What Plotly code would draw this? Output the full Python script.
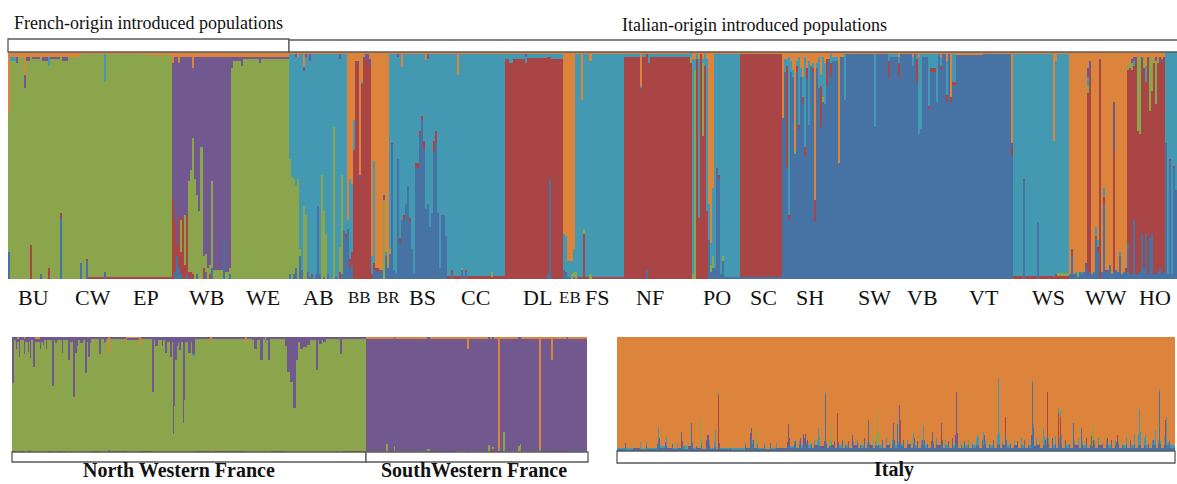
import plotly.graph_objects as go

W, H = 1177, 484

# Ancestry clusters, listed in stacking order (bottom -> top)
CLUSTER_ORDER = ["b", "r", "g", "t", "p", "o"]
CLUSTER_COLORS = {
    "b": "#4672a4",  # blue
    "r": "#a94645",  # red
    "g": "#8ba54d",  # green
    "t": "#4399b1",  # teal
    "p": "#71598f",  # purple
    "o": "#dc833c",  # orange
}

# Each entry: (number of individuals, main cluster, {minor cluster: proportion})
# ---- French-origin introduced populations ----
BU = [(1, "g", {"b": .12, "o": .27}), (3, "g", {"o": .02, "t": .02}), (1, "g", {"o": .02, "p": .03}),
      (3, "g", {"o": .02}), (1, "g", {"o": .10, "p": .06}), (2, "g", {"o": .02, "p": .02}),
      (1, "g", {"r": .15, "o": .02}), (4, "g", {"o": .02, "p": .01}), (1, "g", {"b": .02, "o": .02}),
      (3, "g", {"o": .02, "p": .02}), (1, "g", {"r": .05, "o": .02, "t": .04}),
      (5, "g", {"o": .02, "p": .01}), (1, "g", {"b": .27, "r": .02, "o": .02})]
CW = [(3, "g", {"o": .02, "p": .02}), (6, "g", {"o": .02}), (1, "g", {"b": .07, "o": .01}),
      (2, "g", {"o": .01}), (1, "g", {"b": .08, "r": .01, "o": .01}), (8, "g", {"o": .01, "r": .01}),
      (1, "g", {"b": .03, "t": .12, "o": .01}), (8, "g", {"o": .01, "r": .01})]
EP = [(12, "g", {"r": .01, "o": .01}), (13, "g", {"r": .01, "o": .015})]
WB = [(1, "p", {"o": .05, "r": .35}), (1, "p", {"o": .02, "r": .22, "b": .03}),
      (1, "p", {"o": .02, "r": .05, "b": .10}), (1, "p", {"o": .05, "r": .23, "b": .05}),
      (1, "p", {"o": .02, "g": .14, "r": .10, "b": .02}), (1, "p", {"o": .02, "r": .27}),
      (1, "p", {"o": .02, "g": .22, "r": .06}), (1, "p", {"o": .02, "r": .26, "b": .02}),
      (1, "p", {"o": .02, "g": .40, "r": .03}), (1, "p", {"o": .02, "g": .45, "r": .03}),
      (1, "p", {"o": .07, "g": .60, "r": .02}), (1, "p", {"o": .02, "g": .44}),
      (1, "p", {"o": .02, "g": .35, "b": .02}), (1, "p", {"o": .02, "g": .30}),
      (1, "p", {"o": .02, "g": .58}), (1, "p", {"o": .02, "g": .05, "r": .05}),
      (1, "p", {"o": .02, "g": .08, "b": .03}), (1, "p", {"o": .02, "g": .05}),
      (1, "p", {"o": .02, "g": .04, "r": .02}), (1, "p", {"o": .02, "g": .38, "b": .05}),
      (5, "p", {"o": .02, "g": .04}), (1, "p", {"o": .02, "b": .18}),
      (2, "p", {"o": .02, "g": .03}), (1, "p", {"o": .02, "g": .03, "b": .02})]
WE = [(1, "g", {"p": .05, "o": .02}), (4, "g", {"p": .02, "o": .02}), (1, "g", {"p": .04, "o": .02}),
      (8, "g", {"o": .02, "p": .01}), (1, "g", {"p": .03, "o": .02}), (14, "g", {"o": .02, "p": .01})]

# ---- Italian-origin introduced populations ----
AB = [(1, "t", {"g": .51, "b": .02, "o": .01}), (1, "t", {"g": .45, "o": .01}),
      (1, "t", {"g": .42, "b": .02, "o": .01}), (1, "t", {"g": .36, "b": .05, "p": .01, "o": .01}),
      (1, "t", {"g": .44, "o": .02}), (1, "t", {"b": .10, "g": .03, "o": .01}),
      (1, "t", {"b": .04, "o": .01}), (1, "t", {"g": .32, "p": .02, "o": .065}),
      (1, "t", {"g": .28, "p": .01, "o": .01}), (1, "t", {"b": .03, "o": .01}),
      (1, "t", {"p": .03, "b": .01, "o": .01}), (1, "t", {"r": .01, "b": .01, "o": .01}),
      (1, "t", {"o": .01}), (1, "t", {"b": .02, "o": .01}), (1, "t", {"b": .32, "o": .01}),
      (1, "t", {"b": .02, "o": .01}), (1, "t", {"g": .46, "o": .01}),
      (1, "t", {"g": .29, "b": .01, "o": .01}), (1, "t", {"g": .20, "o": .01}),
      (1, "t", {"b": .02, "o": .01}), (2, "t", {"o": .01}), (1, "t", {"g": .67, "o": .01}),
      (1, "t", {"b": .01, "o": .01}), (1, "t", {"o": .01}),
      (1, "t", {"g": .11, "r": .03, "p": .02, "o": .01}), (1, "t", {"g": .44, "b": .02, "o": .01}),
      (1, "t", {"b": .21, "o": .01}), (1, "t", {"b": .18, "r": .02, "o": .01})]
BB = [(1, "o", {"t": .04, "b": .22}), (1, "o", {"t": .35, "r": .04, "b": .05}),
      (1, "o", {"t": .30, "r": .06, "b": .06}), (1, "r", {"o": .30, "t": .13}),
      (1, "r", {"o": .04}), (1, "r", {"o": .04, "p": .02}), (1, "r", {"o": .54, "p": .02}),
      (1, "r", {"o": .13, "t": .01}), (1, "r", {"o": .02, "p": .02}), (1, "r", {"o": .01, "p": .02}),
      (1, "r", {"o": .01, "p": .02}), (1, "r", {"o": .03, "p": .03}),
      (1, "o", {"t": .08, "r": .02})]
BR = [(1, "o", {"t": .45, "b": .04, "r": .03}), (1, "o", {"p": .02, "b": .03}),
      (1, "o", {"b": .03, "r": .02}), (1, "o", {"b": .02, "p": .02}), (1, "o", {"b": .04}),
      (1, "o", {"g": .35, "p": .02}), (1, "o", {"b": .10, "t": .02}), (1, "o", {"b": .05, "g": .02})]
BS = [(1, "t", {"b": .11, "g": .02, "o": .01}), (1, "t", {"b": .59, "r": .01, "o": .01}),
      (1, "t", {"b": .04, "o": .01}), (1, "t", {"b": .02, "o": .01}),
      (1, "t", {"b": .53, "p": .01, "o": .01}), (1, "t", {"b": .16, "r": .02, "o": .01}),
      (1, "t", {"b": .26, "o": .065}), (1, "t", {"b": .26, "r": .02, "o": .01}),
      (1, "t", {"b": .33, "o": .01}), (1, "t", {"b": .41, "o": .01}),
      (1, "t", {"b": .25, "r": .02, "o": .01}), (1, "t", {"b": .13, "o": .01}),
      (1, "t", {"b": .02, "o": .01}), (1, "t", {"b": .49, "r": .02, "o": .01}),
      (1, "t", {"b": .49, "r": .02, "o": .01}), (1, "t", {"b": .63, "r": .02, "o": .01}),
      (1, "t", {"b": .70, "r": .02, "o": .01}), (1, "t", {"b": .57, "r": .04, "o": .01}),
      (1, "t", {"b": .31, "o": .035}), (1, "t", {"b": .33, "p": .02, "o": .01}),
      (1, "t", {"b": .23, "o": .01}), (1, "t", {"b": .29, "o": .01}),
      (1, "t", {"b": .56, "r": .05, "o": .01}), (1, "t", {"b": .60, "r": .05, "o": .01}),
      (1, "t", {"b": .29, "o": .01}), (1, "t", {"b": .05, "o": .01}),
      (1, "t", {"b": .28, "o": .01}), (1, "t", {"b": .28, "o": .01}), (1, "t", {"b": .19, "o": .01})]
CC = [(2, "t", {"r": .015, "o": .01}), (1, "t", {"r": .02, "b": .02, "o": .01}),
      (2, "t", {"r": .015, "o": .01}), (1, "t", {"r": .015, "o": .10}), (1, "t", {"r": .015, "o": .01}),
      (1, "t", {"b": .04, "g": .01, "o": .01}), (1, "t", {"r": .015, "o": .01}),
      (1, "t", {"b": .03, "r": .01, "o": .01}), (12, "t", {"r": .015, "o": .01}),
      (1, "t", {"g": .02, "r": .01, "o": .01}), (6, "t", {"r": .015, "o": .01})]
DL = [(2, "r", {"t": .02, "o": .01}), (2, "r", {"t": .04, "o": .01}), (6, "r", {"t": .02, "o": .01}),
      (1, "r", {"t": .03, "p": .01, "o": .01}), (10, "r", {"t": .015, "o": .01}),
      (1, "r", {"b": .02, "t": .01, "o": .01}), (1, "r", {"b": .44, "t": .01, "o": .01})]
EB = [(6, "r", {"t": .02, "o": .01}), (1, "o", {"t": .16, "b": .04}),
      (1, "o", {"t": .16, "b": .02, "r": .01}), (2, "o", {"t": .07, "b": .01}),
      (1, "o", {"t": .06, "g": .02}), (1, "o", {"t": .10, "g": .02, "b": .01})]
FS = [(1, "t", {"g": .03, "o": .01}), (2, "t", {"r": .01, "o": .01}), (1, "t", {"o": .21, "r": .01}),
      (1, "t", {"r": .20, "g": .02, "o": .01}), (2, "t", {"r": .01, "o": .01}),
      (1, "t", {"o": .04, "g": .02}), (16, "t", {"r": .01, "o": .01})]
NF = [(8, "r", {"o": .01, "t": .01}), (1, "r", {"o": .15, "t": .01}), (2, "r", {"o": .01, "t": .01}),
      (1, "r", {"b": .04, "o": .01}), (1, "r", {"t": .04, "o": .01}), (20, "r", {"o": .01, "t": .01})]
PO = [(1, "r", {"g": .03, "t": .02}), (1, "t", {"g": .02, "o": .03}), (1, "g", {"t": .05, "o": .03}),
      (1, "r", {"t": .02, "o": .01}), (1, "t", {"r": .27, "o": .03}), (1, "r", {"o": .01}),
      (1, "r", {"g": .32, "o": .03, "t": .02}), (1, "r", {"t": .05, "o": .01}),
      (1, "t", {"r": .30, "o": .03}), (1, "o", {"t": .16, "b": .17}),
      (1, "o", {"t": .10, "b": .03, "g": .03}), (1, "o", {"t": .30, "g": .05, "b": .05}),
      (1, "t", {"b": .05, "o": .01}), (1, "t", {"b": .48, "r": .01, "o": .01}),
      (1, "t", {"b": .44, "r": .02, "o": .01}), (1, "t", {"b": .02, "o": .01}),
      (1, "t", {"g": .02, "b": .08, "o": .01}), (8, "t", {"b": .01, "o": .01})]
SC = [(21, "r", {"o": .01, "b": .01})]
SH = [(1, "b", {"o": .29}), (1, "b", {"o": .03, "t": .06}), (1, "b", {"o": .03, "t": .03, "r": .45}),
      (1, "b", {"o": .02, "t": .70, "r": .02}), (1, "b", {"o": .04, "t": .05}),
      (1, "b", {"o": .08, "t": .03}), (1, "b", {"o": .43, "g": .02}),
      (1, "b", {"o": .04, "t": .02, "r": .03}), (1, "b", {"o": .02, "t": .30, "r": .02}),
      (1, "b", {"o": .07, "t": .04}), (1, "b", {"o": .11, "t": .09, "r": .02}),
      (1, "b", {"o": .02, "t": .40, "r": .04}), (1, "b", {"o": .07, "r": .05}),
      (1, "b", {"o": .04, "t": .28}), (1, "b", {"o": .06}), (1, "b", {"o": .05, "t": .02, "r": .02}),
      (1, "b", {"o": .65, "r": .10}), (1, "b", {"o": .05, "t": .02}), (1, "b", {"o": .02, "t": .14}),
      (1, "b", {"o": .10, "t": .05, "r": .18}), (1, "b", {"t": .18, "g": .02, "o": .02}),
      (1, "b", {"o": .05, "t": .18}), (1, "b", {"o": .03, "r": .12}), (1, "b", {"o": .03}),
      (1, "b", {"t": .04, "r": .06, "o": .01}), (3, "b", {"o": .02, "t": .02}),
      (1, "b", {"o": .49}), (2, "b", {"o": .02})]
SW = [(1, "b", {"t": .20, "o": .01}), (14, "b", {"o": .01}), (1, "b", {"t": .32, "o": .01}),
      (6, "b", {"o": .01}), (1, "b", {"t": .03, "r": .07, "o": .01}), (4, "b", {"o": .01, "t": .01}),
      (1, "b", {"o": .02, "t": .03, "r": .06})]
VB = [(6, "b", {"o": .01}), (1, "b", {"t": .04, "o": .02}), (1, "b", {"o": .01}),
      (1, "b", {"r": .10, "t": .02, "o": .01}), (1, "b", {"t": .34, "o": .02}),
      (1, "b", {"t": .33, "o": .01}), (3, "b", {"o": .01, "t": .01}),
      (1, "b", {"t": .23, "r": .01, "o": .01}), (3, "b", {"t": .06, "r": .02, "o": .01}),
      (1, "b", {"t": .21, "o": .01}), (1, "b", {"o": .01}), (1, "b", {"r": .02, "t": .04, "o": .02}),
      (2, "b", {"o": .01}), (1, "b", {"o": .04, "t": .15, "r": .03}), (1, "b", {"o": .01}),
      (1, "b", {"o": .20, "r": .02}), (2, "b", {"t": .12, "r": .015, "o": .01})]
VT = [(13, "b", {"o": .012}), (14, "b", {"o": .01}), (1, "b", {"o": .40, "p": .02, "r": .04})]
WS = [(5, "t", {"r": .015, "o": .01}), (1, "t", {"b": .43, "r": .01, "o": .01}),
      (6, "t", {"r": .015, "o": .01}), (1, "t", {"b": .25, "o": .01}), (7, "t", {"r": .015, "o": .01}),
      (1, "t", {"o": .39, "r": .01}), (1, "t", {"o": .04, "r": .02}),
      (6, "t", {"r": .015, "g": .01, "o": .01})]
WW = [(1, "o", {"b": .02}), (1, "o", {"b": .10, "r": .01, "p": .02}), (1, "o", {"b": .02}),
      (1, "o", {"b": .02, "t": .01}), (1, "o", {"g": .02, "b": .01}), (1, "o", {"b": .03}),
      (1, "o", {"b": .02, "t": .01}), (1, "o", {"b": .03}), (1, "o", {"b": .05, "p": .02}),
      (1, "o", {"b": .02, "r": .80, "t": .04, "g": .03, "p": .04}),
      (1, "o", {"b": .03, "r": .89, "p": .04}), (1, "o", {"b": .02}), (1, "o", {"b": .03}),
      (1, "o", {"b": .18, "t": .04, "r": .01}), (1, "o", {"b": .12, "t": .03, "r": .02}),
      (1, "o", {"r": .96, "p": .01}), (1, "o", {"b": .03}), (1, "o", {"b": .33, "r": .03, "t": .04}),
      (1, "o", {"b": .03, "r": .01}), (1, "o", {"b": .04}), (1, "o", {"b": .06}), (1, "o", {"b": .02}),
      (1, "o", {"b": .03, "r": .53, "p": .22}), (1, "o", {"b": .04}), (1, "o", {"b": .03}),
      (1, "o", {"b": .10, "t": .02}), (1, "o", {"b": .02}), (1, "o", {"b": .03}),
      (1, "o", {"b": .03, "r": .02})]
HO = [(1, "r", {"o": .06, "g": .02, "b": .16}), (1, "r", {"o": .05, "g": .02, "b": .02}),
      (1, "r", {"o": .03, "p": .02, "g": .03, "b": .02}), (1, "r", {"o": .02, "p": .02, "t": .02, "b": .26}),
      (1, "r", {"o": .02, "p": .02, "b": .02}), (1, "r", {"o": .03, "g": .32, "b": .02}),
      (1, "r", {"o": .02, "g": .34, "b": .03}), (1, "r", {"o": .02, "p": .02, "b": .20}),
      (1, "r", {"o": .02, "g": .05, "b": .05}), (1, "r", {"o": .06, "t": .07, "b": .20}),
      (1, "r", {"o": .02, "b": .02}), (1, "r", {"o": .02, "g": .24, "b": .18}),
      (1, "r", {"o": .02, "g": .15, "b": .20}), (1, "r", {"o": .05, "b": .02}),
      (1, "r", {"o": .02, "p": .02, "g": .19, "b": .02}), (1, "r", {"o": .03, "g": .02, "b": .03}),
      (1, "r", {"o": .02, "b": .05}), (1, "r", {"o": .03, "p": .02, "b": .02}),
      (1, "r", {"o": .02, "b": .03}), (1, "t", {"b": .60}), (1, "t", {"b": .02}),
      (1, "t", {"b": .52, "r": .01}), (1, "t", {"b": .02}), (1, "t", {"b": .49, "r": .01}),
      (1, "t", {"b": .39})]

TOP_POPS = [BU, CW, EP, WB, WE, AB, BB, BR, BS, CC, DL, EB, FS, NF, PO, SC, SH, SW, VB, VT, WS, WW, HO]
TOP_LABELS = ["BU", "CW", "EP", "WB", "WE", "AB", "BB", "BR", "BS", "CC", "DL", "EB", "FS",
              "NF", "PO", "SC", "SH", "SW", "VB", "VT", "WS", "WW", "HO"]

# ---- Native range: France ----
NW_FRANCE = [
    (2, "g", {"p": .40, "r": .01}), (2, "g", {"p": .03, "r": .01}), (1, "g", {"p": .10}),
    (2, "g", {"p": .03, "o": .01}), (1, "g", {"p": .17}), (4, "g", {"p": .03, "r": .01}),
    (1, "g", {"p": .14, "o": .01}), (3, "g", {"p": .04}), (1, "g", {"p": .13}),
    (1, "g", {"p": .04, "r": .02}), (1, "g", {"p": .18}), (2, "g", {"p": .03}), (2, "g", {"p": .26}),
    (5, "g", {"p": .03, "o": .01}), (1, "g", {"p": .10}), (2, "g", {"p": .04}), (1, "g", {"p": .07}),
    (2, "g", {"p": .03}), (1, "g", {"p": .10}), (5, "g", {"p": .03, "r": .01}), (2, "g", {"p": .43}),
    (1, "g", {"p": .03}), (2, "g", {"p": .05}), (5, "g", {"p": .03, "b": .01}), (1, "g", {"p": .14}),
    (5, "g", {"p": .03}), (2, "g", {"p": .20}), (3, "g", {"p": .04, "r": .01}), (2, "g", {"p": .52}),
    (2, "g", {"p": .14}), (1, "g", {"p": .08}), (2, "g", {"p": .03}), (3, "g", {"p": .05}),
    (2, "g", {"p": .03}), (2, "g", {"p": .31}), (1, "g", {"p": .04}), (2, "g", {"p": .17}),
    (1, "g", {"p": .05}), (8, "g", {"p": .02, "r": .01}), (2, "g", {"p": .15}), (3, "g", {"p": .02}),
    (2, "g", {"p": .04, "t": .01}), (2, "g", {"p": .02}), (2, "g", {"o": .14, "b": .02}),
    (16, "g", {"p": .015, "r": .01}), (1, "g", {"o": .05}), (12, "g", {"p": .015, "o": .005}),
    (2, "g", {"o": .08}), (11, "g", {"p": .02, "r": .01}), (2, "g", {"p": .48}), (1, "g", {"p": .03}),
    (3, "g", {"p": .08}), (4, "g", {"p": .03}), (1, "g", {"p": .08}), (2, "g", {"p": .03}),
    (2, "g", {"p": .14}), (3, "g", {"p": .04}), (2, "g", {"p": .17}), (1, "g", {"p": .04}),
    (1, "g", {"p": .84}), (1, "g", {"p": .60}), (2, "g", {"p": .20}), (1, "g", {"p": .08}),
    (1, "g", {"p": .05}), (2, "g", {"p": .11}), (2, "g", {"p": .04}), (1, "g", {"p": .75}),
    (1, "g", {"p": .55}), (3, "g", {"p": .04}), (3, "g", {"p": .14}), (1, "g", {"p": .04}),
    (3, "g", {"p": .15, "t": .01}), (15, "g", {"p": .015, "r": .01}), (2, "g", {"o": .04}),
    (33, "g", {"p": .015, "r": .01}), (2, "g", {"o": .05}), (5, "g", {"p": .02}), (2, "g", {"p": .03}),
    (3, "g", {"p": .10}), (3, "g", {"p": .03}), (3, "g", {"p": .20}), (2, "g", {"p": .02}),
    (1, "g", {"t": .03, "o": .02}), (2, "g", {"p": .03}), (2, "g", {"p": .20}),
    (15, "g", {"p": .02, "r": .01}), (2, "g", {"p": .08}), (3, "g", {"p": .30}), (3, "g", {"p": .39}),
    (3, "g", {"p": .62}), (2, "g", {"p": .20}), (2, "g", {"p": .04}), (3, "g", {"p": .10}),
    (4, "g", {"p": .09}), (3, "g", {"p": .07}), (6, "g", {"p": .03}), (2, "g", {"p": .29}),
    (1, "g", {"p": .03}), (3, "g", {"p": .06}), (1, "g", {"p": .03}), (3, "g", {"p": .04}),
    (14, "g", {"p": .02}), (2, "g", {"p": .15}), (24, "g", {"p": .015, "r": .01})]
SW_FRANCE = [
    (20, "p", {"o": .01, "g": .01}), (2, "p", {"g": .07, "o": .01}), (6, "p", {"o": .01, "r": .01}),
    (1, "p", {"g": .05}), (32, "p", {"o": .01, "g": .005}), (3, "p", {"g": .02, "r": .01}),
    (25, "p", {"o": .01}), (1, "p", {"r": .03, "o": .01}), (11, "p", {"o": .01, "g": .01}),
    (2, "p", {"o": .10}), (19, "p", {"o": .01, "g": .01}), (2, "p", {"g": .06}), (2, "p", {"o": .01}),
    (2, "p", {"r": .03, "g": .01}), (4, "p", {"o": .01}), (2, "o", {"g": .02, "r": .01}),
    (3, "p", {"o": .01}), (2, "p", {"g": .17, "o": .01}), (13, "p", {"o": .01, "g": .01}),
    (2, "p", {"g": .05}), (1, "p", {"g": .06, "r": .01}), (18, "p", {"o": .01, "g": .01}),
    (2, "o", {"g": .02, "b": .01}), (10, "p", {"o": .01}), (2, "p", {"o": .20}),
    (14, "p", {"o": .01, "r": .01}), (1, "p", {"r": .03}), (19, "p", {"o": .01, "t": .01})]

# ---- Native range: Italy ----
ITALY = [
    (8, "o", {"b": .02, "t": .01}), (1, "o", {"b": .05, "p": .02}), (6, "o", {"t": .02, "b": .01}),
    (1, "o", {"g": .04, "b": .02}), (7, "o", {"b": .02, "p": .01}), (1, "o", {"t": .06, "b": .02}),
    (5, "o", {"b": .02, "g": .01}), (1, "o", {"b": .04, "t": .04}), (10, "o", {"b": .02, "t": .01}),
    (1, "o", {"b": .06}), (1, "o", {"b": .10, "t": .11}), (1, "o", {"b": .08, "p": .03}),
    (5, "o", {"b": .03, "t": .01}), (1, "o", {"p": .05, "b": .03}), (1, "o", {"t": .08, "b": .04}),
    (5, "o", {"b": .02, "p": .01}), (1, "o", {"b": .06, "g": .02}), (4, "o", {"b": .02, "t": .01}),
    (1, "o", {"t": .05, "b": .02}), (3, "o", {"b": .03}), (1, "o", {"b": .03, "r": .06, "p": .08}),
    (1, "o", {"b": .05, "p": .04}), (4, "o", {"b": .02, "t": .02}), (1, "o", {"g": .06, "b": .02}),
    (3, "o", {"b": .02, "p": .02}), (1, "o", {"b": .25}), (1, "o", {"b": .06, "t": .03}),
    (3, "o", {"b": .02, "t": .01}), (1, "o", {"b": .04, "g": .03}), (3, "o", {"b": .02, "p": .01}),
    (1, "o", {"b": .03, "g": .26}), (1, "o", {"b": .05, "t": .03}), (4, "o", {"b": .02}),
    (1, "o", {"p": .07, "b": .03}), (1, "o", {"b": .04, "p": .10}),
    (1, "o", {"b": .03, "r": .03, "p": .08}), (1, "o", {"b": .05, "t": .05}),
    (4, "o", {"b": .02, "t": .01}), (1, "o", {"b": .03, "t": .05}), (1, "o", {"b": .04, "t": .14}),
    (2, "o", {"b": .02}), (1, "o", {"b": .02, "r": .47, "t": .03}), (1, "o", {"b": .04, "p": .03}),
    (10, "o", {"b": .02, "t": .01}), (1, "o", {"b": .03, "g": .03}), (14, "o", {"b": .015, "t": .01}),
    (1, "o", {"b": .05, "t": .02}), (4, "o", {"b": .02, "p": .01}), (1, "o", {"b": .10, "p": .06}),
    (1, "o", {"b": .12, "p": .08}), (1, "o", {"b": .06, "t": .04}), (1, "o", {"b": .08, "r": .02}),
    (2, "o", {"b": .03}), (1, "o", {"b": .03, "g": .17}), (1, "o", {"b": .05, "t": .02}),
    (6, "o", {"b": .02, "t": .01}), (1, "o", {"b": .04, "t": .03}), (5, "o", {"b": .02}),
    (1, "o", {"b": .05, "p": .02}), (5, "o", {"b": .02, "t": .01}), (1, "o", {"b": .03, "t": .04}),
    (10, "o", {"b": .02, "p": .01}), (1, "o", {"b": .05, "r": .03}),
    (1, "o", {"b": .04, "r": .04, "p": .16}), (1, "o", {"b": .05, "p": .06}),
    (4, "o", {"b": .03, "t": .01}), (1, "o", {"b": .06, "t": .03}), (1, "o", {"b": .04, "p": .05}),
    (3, "o", {"b": .03}), (1, "o", {"b": .05, "t": .04}), (1, "o", {"b": .04, "p": .07}),
    (2, "o", {"b": .03, "t": .02}), (1, "o", {"b": .04, "p": .11}), (1, "o", {"b": .06, "p": .05}),
    (1, "o", {"b": .04, "r": .03, "p": .08}), (1, "o", {"b": .05, "t": .03}),
    (1, "o", {"b": .04, "p": .06}), (3, "o", {"b": .03, "t": .02}), (1, "o", {"b": .06, "g": .03}),
    (2, "o", {"b": .03}), (1, "o", {"b": .05, "t": .05}), (2, "o", {"b": .03, "p": .02}),
    (1, "o", {"b": .04, "t": .06}), (1, "o", {"b": .05, "t": .15}), (1, "o", {"b": .04, "t": .08}),
    (4, "o", {"b": .03, "p": .01}), (1, "o", {"b": .06, "p": .03}), (1, "o", {"b": .49, "t": .03}),
    (1, "o", {"b": .06, "t": .02}), (2, "o", {"b": .03}), (1, "o", {"b": .04, "g": .04}),
    (1, "o", {"b": .04, "g": .20}), (1, "o", {"b": .05, "t": .04}), (2, "o", {"b": .03, "p": .02}),
    (1, "o", {"b": .05, "p": .04}), (2, "o", {"b": .03}), (1, "o", {"b": .04, "r": .29}),
    (1, "o", {"b": .05, "p": .03}), (3, "o", {"b": .03, "t": .02}), (1, "o", {"b": .06, "p": .04}),
    (2, "o", {"b": .03}), (1, "o", {"b": .05, "g": .04}), (2, "o", {"b": .03, "t": .02}),
    (1, "o", {"b": .06, "r": .03}), (3, "o", {"b": .03}), (1, "o", {"b": .04, "p": .10}),
    (1, "o", {"b": .05, "t": .04}), (3, "o", {"b": .03, "p": .02}), (1, "o", {"b": .07, "t": .03}),
    (2, "o", {"b": .03}), (1, "o", {"b": .05, "g": .04}), (3, "o", {"b": .03, "t": .02}),
    (1, "o", {"b": .06, "p": .05}), (2, "o", {"b": .03}), (1, "o", {"b": .05, "t": .03}),
    (1, "o", {"b": .27}), (1, "o", {"b": .06, "t": .02}), (2, "o", {"b": .03, "p": .02}),
    (1, "o", {"b": .05, "g": .06}), (2, "o", {"b": .03}), (1, "o", {"b": .04, "t": .05}),
    (1, "o", {"b": .05, "g": .10}), (1, "o", {"b": .04, "g": .32}), (1, "o", {"b": .05, "g": .12}),
    (3, "o", {"b": .03, "t": .02}), (1, "o", {"b": .06, "p": .04}), (3, "o", {"b": .03}),
    (1, "o", {"b": .05, "t": .06}), (2, "o", {"b": .03, "p": .02}), (1, "o", {"b": .06, "g": .03}),
    (2, "o", {"b": .03}), (1, "o", {"b": .06, "t": .04}), (1, "o", {"b": .18, "p": .07}),
    (1, "o", {"b": .06, "p": .04}), (2, "o", {"b": .03, "t": .02}), (1, "o", {"b": .24}),
    (1, "o", {"b": .05, "t": .03}), (1, "o", {"b": .30, "p": .10}), (1, "o", {"b": .06, "r": .21}),
    (2, "o", {"b": .04, "t": .02}), (1, "o", {"b": .06, "p": .04}), (3, "o", {"b": .03}),
    (1, "o", {"b": .05, "t": .05}), (2, "o", {"b": .03, "p": .03}), (1, "o", {"b": .06, "g": .04}),
    (2, "o", {"b": .03}), (1, "o", {"b": .06, "t": .10}), (1, "o", {"b": .05, "p": .06}),
    (2, "o", {"b": .03, "t": .02}), (1, "o", {"b": .06, "r": .03}), (3, "o", {"b": .03}),
    (1, "o", {"b": .05, "t": .05}), (1, "o", {"b": .04, "p": .06}), (1, "o", {"b": .05, "t": .18}),
    (1, "o", {"b": .06, "p": .04}), (2, "o", {"b": .03, "t": .02}), (1, "o", {"b": .06, "g": .03}),
    (3, "o", {"b": .03}), (1, "o", {"b": .05, "r": .04}), (1, "o", {"b": .05, "p": .12}),
    (1, "o", {"b": .06, "t": .03}), (2, "o", {"b": .03}), (1, "o", {"b": .06, "t": .05}),
    (3, "o", {"b": .03, "p": .02}), (1, "o", {"b": .05, "g": .04}),
    (1, "o", {"b": .05, "r": .12, "p": .08}), (1, "o", {"b": .06, "p": .04}), (2, "o", {"b": .03}),
    (1, "o", {"b": .05, "t": .05}), (2, "o", {"b": .03, "t": .02}), (1, "o", {"b": .06, "p": .03}),
    (3, "o", {"b": .03}), (1, "o", {"b": .05, "p": .06}), (2, "o", {"b": .03, "t": .02}),
    (1, "o", {"b": .06, "p": .08}), (1, "o", {"b": .07, "p": .45}), (1, "o", {"b": .06, "p": .10}),
    (3, "o", {"b": .03}), (1, "o", {"b": .05, "t": .04}), (2, "o", {"b": .03, "g": .02}),
    (1, "o", {"b": .06, "p": .03}), (3, "o", {"b": .03, "t": .02}), (1, "o", {"b": .05, "t": .05}),
    (3, "o", {"b": .03}), (1, "o", {"b": .06, "g": .04}), (3, "o", {"b": .03, "t": .02}),
    (1, "o", {"b": .05, "t": .06}), (1, "o", {"b": .04, "t": .10}), (1, "o", {"b": .05, "t": .07}),
    (3, "o", {"b": .03}), (1, "o", {"b": .05, "p": .05}), (1, "o", {"b": .05, "t": .12}),
    (1, "o", {"b": .04, "p": .10}), (1, "o", {"b": .06, "t": .04}), (3, "o", {"b": .03}),
    (1, "o", {"b": .06, "g": .04}), (3, "o", {"b": .03, "t": .02}), (1, "o", {"b": .05, "p": .05}),
    (3, "o", {"b": .03}), (1, "o", {"b": .06, "t": .08}), (1, "o", {"b": .05, "t": .58}),
    (1, "o", {"b": .06, "t": .10}), (2, "o", {"b": .03}), (1, "o", {"b": .05, "t": .04}),
    (2, "o", {"b": .03, "p": .02}), (1, "o", {"b": .15, "r": .15}), (1, "o", {"b": .06, "p": .04}),
    (3, "o", {"b": .03, "t": .02}), (1, "o", {"b": .06, "g": .03}), (3, "o", {"b": .03}),
    (1, "o", {"b": .05, "t": .05}), (2, "o", {"b": .03, "p": .02}), (1, "o", {"b": .06, "r": .03}),
    (3, "o", {"b": .03}), (1, "o", {"b": .05, "t": .06}), (2, "o", {"b": .03, "t": .02}),
    (1, "o", {"b": .06, "p": .04}), (3, "o", {"b": .03}), (1, "o", {"b": .05, "g": .05}),
    (2, "o", {"b": .03, "t": .02}), (1, "o", {"b": .10, "p": .04}), (1, "o", {"b": .60, "t": .02}),
    (1, "o", {"b": .20, "t": .04}), (2, "o", {"b": .04}), (1, "o", {"b": .06, "t": .05}),
    (2, "o", {"b": .03, "p": .02}), (1, "o", {"b": .06, "g": .04}), (3, "o", {"b": .03}),
    (1, "o", {"b": .05, "t": .15}), (1, "o", {"b": .05, "t": .08}), (1, "o", {"b": .06, "p": .04}),
    (1, "o", {"b": .05, "t": .06}), (1, "o", {"b": .04, "r": .48}), (1, "o", {"b": .06, "t": .05}),
    (3, "o", {"b": .03}), (1, "o", {"b": .06, "p": .05}), (2, "o", {"b": .03, "t": .02}),
    (1, "o", {"b": .06, "t": .07}), (2, "o", {"b": .03}), (1, "o", {"b": .05, "r": .28, "t": .05}),
    (1, "o", {"b": .05, "t": .06}), (1, "o", {"b": .04, "r": .26, "t": .05}),
    (1, "o", {"b": .06, "t": .08}), (3, "o", {"b": .03}), (1, "o", {"b": .05, "p": .05}),
    (3, "o", {"b": .03, "t": .02}), (1, "o", {"b": .06, "g": .03}), (3, "o", {"b": .03}),
    (1, "o", {"b": .25}), (1, "o", {"b": .06, "t": .03}), (3, "o", {"b": .03, "p": .02}),
    (1, "o", {"b": .05, "t": .06}), (2, "o", {"b": .03}), (1, "o", {"b": .20}),
    (1, "o", {"b": .05, "t": .04}), (3, "o", {"b": .03, "t": .02}), (1, "o", {"b": .06, "p": .05}),
    (3, "o", {"b": .03}), (1, "o", {"b": .05, "g": .06}), (1, "o", {"b": .05, "r": .08}),
    (1, "o", {"b": .04, "g": .10}), (1, "o", {"b": .04, "r": .06, "g": .13}),
    (1, "o", {"b": .06, "t": .04}), (3, "o", {"b": .03}), (1, "o", {"b": .05, "t": .06}),
    (3, "o", {"b": .03, "p": .02}), (1, "o", {"b": .06, "g": .03}), (3, "o", {"b": .03}),
    (1, "o", {"b": .05, "t": .05}), (1, "o", {"b": .04, "r": .07}), (3, "o", {"b": .03, "t": .02}),
    (1, "o", {"b": .06, "p": .04}), (3, "o", {"b": .03}), (1, "o", {"b": .05, "t": .05}),
    (1, "o", {"b": .05, "p": .03}), (1, "o", {"b": .04, "r": .10}), (1, "o", {"b": .06, "t": .03}),
    (3, "o", {"b": .03}), (1, "o", {"b": .05, "g": .05}), (3, "o", {"b": .03, "t": .02}),
    (1, "o", {"b": .06, "t": .06}), (3, "o", {"b": .03}), (1, "o", {"b": .05, "p": .05}),
    (3, "o", {"b": .03, "t": .02}), (1, "o", {"b": .06, "t": .08}), (3, "o", {"b": .03}),
    (1, "o", {"b": .05, "t": .10}), (1, "o", {"b": .05, "t": .32}), (1, "o", {"b": .05, "t": .12}),
    (3, "o", {"b": .03}), (1, "o", {"b": .05, "t": .06}), (1, "o", {"b": .04, "t": .10}),
    (2, "o", {"b": .03, "t": .02}), (1, "o", {"b": .06, "g": .03}), (3, "o", {"b": .03}),
    (1, "o", {"b": .05, "t": .05}), (1, "o", {"b": .06, "p": .04}), (1, "o", {"b": .05, "t": .03}),
    (1, "o", {"b": .05, "t": .13}), (2, "o", {"b": .03}), (1, "o", {"b": .06, "t": .04}),
    (1, "o", {"b": .52, "t": .02}), (1, "o", {"b": .06, "t": .03}), (3, "o", {"b": .03}),
    (1, "o", {"b": .05, "t": .08}), (1, "o", {"b": .04, "r": .23}), (1, "o", {"b": .05, "t": .25}),
    (2, "o", {"b": .04, "t": .03}), (1, "o", {"b": .05, "p": .04}), (5, "o", {"b": .03, "t": .02})]


def expand(groups):
    """Turn run-length groups into one membership dict per individual."""
    rows = []
    for group in groups:
        for n, main, minor in group:
            q = dict(minor)
            q[main] = q.get(main, 0) + 1 - sum(minor.values())
            rows.extend([q] * n)
    return rows


def px_x(v):
    return v / W


def px_y(v):
    return 1 - v / H


FONT = "Liberation Serif"
INK = "#111111"
FRAME = "#5a5a5a"

fig = go.Figure()

# panel axis suffix -> (individual rows, x pixel span, y pixel span)
panels = [
    ("", expand(TOP_POPS), (8, 1177), (52, 279)),
    ("2", expand([NW_FRANCE, SW_FRANCE]), (12, 587), (337, 452)),
    ("3", expand([ITALY]), (617, 1175), (337, 451)),
]

layout_axes = {}
for suffix, rows, (x0, x1), (y0, y1) in panels:
    n = len(rows)
    xs = list(range(n))
    for c in CLUSTER_ORDER:
        fig.add_trace(go.Bar(
            x=xs, y=[r.get(c, 0) for r in rows],
            marker=dict(color=CLUSTER_COLORS[c], line=dict(width=0)),
            xaxis="x" + suffix, yaxis="y" + suffix,
            showlegend=False, hoverinfo="skip",
        ))
    layout_axes["xaxis" + suffix] = dict(domain=[px_x(x0), px_x(x1)], range=[-0.5, n - 0.5],
                                         visible=False, fixedrange=True,
                                         anchor="y" + suffix)
    layout_axes["yaxis" + suffix] = dict(domain=[px_y(y1), px_y(y0)], range=[0, 1],
                                         visible=False, fixedrange=True,
                                         anchor="x" + suffix)

shapes = [
    # group brackets above the introduced populations
    dict(type="rect", x0=px_x(8), x1=px_x(289), y0=px_y(52), y1=px_y(39)),
    dict(type="rect", x0=px_x(289), x1=px_x(1182), y0=px_y(52), y1=px_y(40)),
    # brackets below the native-range panels
    dict(type="rect", x0=px_x(12), x1=px_x(366), y0=px_y(462), y1=px_y(452)),
    dict(type="rect", x0=px_x(366), x1=px_x(588), y0=px_y(462), y1=px_y(452)),
    dict(type="rect", x0=px_x(617), x1=px_x(1175), y0=px_y(463), y1=px_y(451)),
]
for s in shapes:
    s.update(xref="paper", yref="paper", line=dict(color=FRAME, width=1.3),
             fillcolor="white", layer="above")

# label text positions (pixels)
TOP_LABEL_X = [33, 93, 146, 206, 263, 319, 359, 388, 422, 475, 537, 570, 597,
               650, 717, 763, 810, 874, 922, 984, 1048, 1106, 1155]
SMALL_LABELS = {"BB", "BR", "EB"}

annotations = []
for lab, xpx in zip(TOP_LABELS, TOP_LABEL_X):
    annotations.append(dict(
        text=lab, x=px_x(xpx), y=px_y(297), xref="paper", yref="paper",
        showarrow=False, xanchor="center", yanchor="middle",
        font=dict(family=FONT, size=17 if lab in SMALL_LABELS else 22, color=INK),
    ))

for text, xpx, ypx in [
    ("French-origin introduced populations", 148, 23),
    ("Italian-origin introduced populations", 755, 25),
]:
    annotations.append(dict(
        text=text, x=px_x(xpx), y=px_y(ypx), xref="paper", yref="paper",
        showarrow=False, xanchor="center", yanchor="middle",
        font=dict(family=FONT, size=18, color=INK),
    ))

for text, xpx in [
    ("<b>North Western France</b>", 179),
    ("<b>SouthWestern France</b>", 474),
    ("<b>Italy</b>", 894),
]:
    annotations.append(dict(
        text=text, x=px_x(xpx), y=px_y(483), xref="paper", yref="paper",
        showarrow=False, xanchor="center", yanchor="bottom",
        font=dict(family=FONT, size=20, color=INK),
    ))

fig.update_layout(
    width=W, height=H,
    margin=dict(l=0, r=0, t=0, b=0),
    paper_bgcolor="white", plot_bgcolor="white",
    barmode="stack", bargap=0,
    shapes=shapes, annotations=annotations,
    **layout_axes,
)

fig.write_html("out.html", config={"displayModeBar": False})
